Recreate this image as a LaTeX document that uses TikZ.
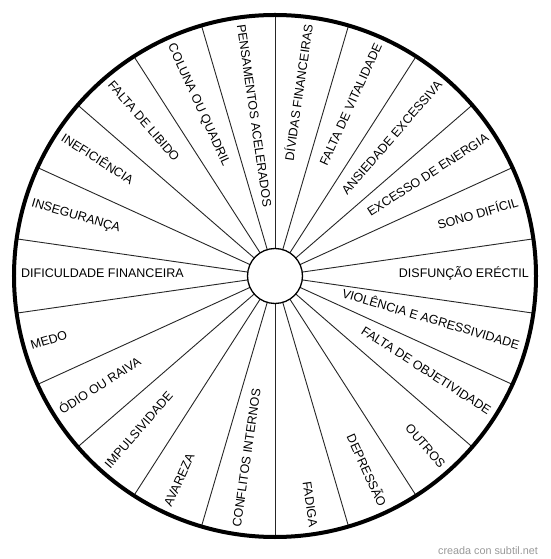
\documentclass[tikz,border=0pt]{standalone}
\usepackage{fontspec}
\setmainfont{Liberation Sans}
\tikzset{
  spoke/.style={line width=0.9pt, black!85},
  lbl/.style={font=\fontsize{12.5}{15}\selectfont, inner sep=0pt, text height=4pt, text depth=0pt},
  mark/.style={}
}
\begin{document}
\begin{tikzpicture}[x=1pt,y=1pt]
\useasboundingbox (-275,-283) rectangle (275,276);
\fill[white] (-275,-283) rectangle (275,276);
\foreach \i in {0,...,21} {
  \draw[spoke] (90-\i*16.363636:27.5) -- (90-\i*16.363636:261);
}
\draw[line width=1.3pt] (0,0) circle (27.5);
\draw[line width=4pt] (0,0) circle (261);
\foreach \t [count=\k from 0] in {DÍVIDAS FINANCEIRAS, FALTA DE VITALIDADE, ANSIEDADE EXCESSIVA, EXCESSO DE ENERGIA, SONO DIFÍCIL, DISFUNÇÃO ERÉCTIL, VIOLÊNCIA E AGRESSIVIDADE, FALTA DE OBJETIVIDADE, OUTROS, DEPRESSÃO, FADIGA, CONFLITOS INTERNOS, AVAREZA, IMPULSIVIDADE, ÓDIO OU RAIVA, MEDO, DIFICULDADE FINANCEIRA, INSEGURANÇA, INEFICIÊNCIA, FALTA DE LIBIDO, COLUNA OU QUADRIL, PENSAMENTOS ACELERADOS} {
  \pgfmathsetmacro\a{81.818182-16.363636*\k}
  \ifnum\k<11
    \node[lbl, rotate=\a, anchor=east] (l\k) at (\a:254) {\t};
  \else
    \node[lbl, rotate=\a+180, anchor=west] (l\k) at (\a:254) {\t};
  \fi
}
\node[font=\fontsize{10.8}{13}\selectfont, text=black!40, inner sep=0pt] (wm) at (213,-275) {creada con subtil.net};
\end{tikzpicture}
\end{document}
